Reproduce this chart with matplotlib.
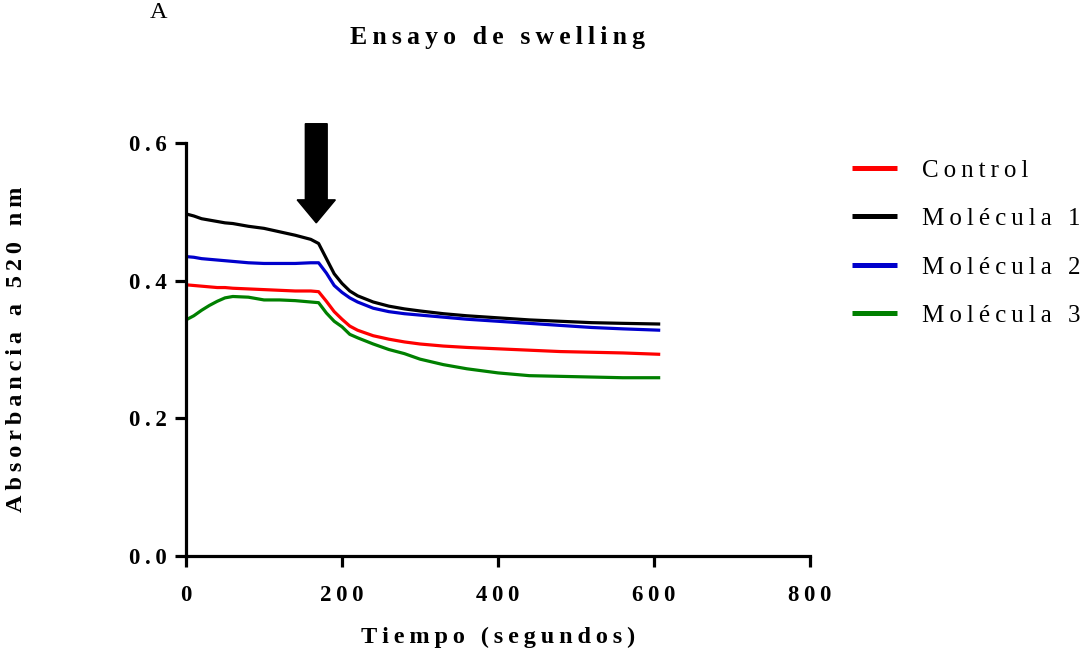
import matplotlib
matplotlib.use("Agg")
import matplotlib.pyplot as plt

# ---------------- data ----------------
time_s = [0, 10, 20, 30, 40, 50, 60, 80, 100, 120, 140, 160, 170, 180, 190, 200,
          210, 220, 240, 260, 280, 300, 330, 360, 400, 440, 480, 520, 560, 608]

control = [0.394, 0.393, 0.392, 0.391, 0.390, 0.390, 0.389, 0.388, 0.387, 0.386,
           0.385, 0.385, 0.384, 0.370, 0.355, 0.344, 0.334, 0.328, 0.320, 0.315,
           0.311, 0.308, 0.305, 0.303, 0.301, 0.299, 0.297, 0.296, 0.295, 0.293]

molecula_1 = [0.497, 0.494, 0.490, 0.488, 0.486, 0.484, 0.483, 0.479, 0.476, 0.471,
              0.466, 0.460, 0.454, 0.432, 0.410, 0.396, 0.385, 0.378, 0.369, 0.363,
              0.359, 0.356, 0.352, 0.349, 0.346, 0.343, 0.341, 0.339, 0.338, 0.337]

molecula_2 = [0.435, 0.434, 0.432, 0.431, 0.430, 0.429, 0.428, 0.426, 0.425, 0.425,
              0.425, 0.426, 0.426, 0.411, 0.393, 0.383, 0.375, 0.369, 0.360, 0.355,
              0.352, 0.350, 0.347, 0.344, 0.341, 0.338, 0.335, 0.332, 0.330, 0.328]

molecula_3 = [0.343, 0.349, 0.357, 0.364, 0.370, 0.375, 0.377, 0.376, 0.372, 0.372,
              0.371, 0.369, 0.368, 0.353, 0.341, 0.333, 0.322, 0.317, 0.308, 0.300,
              0.294, 0.286, 0.278, 0.272, 0.266, 0.262, 0.261, 0.260, 0.259, 0.259]

series_names = ["Control", "Molécula 1", "Molécula 2", "Molécula 3"]
series_colors = ["#ff0000", "#000000", "#0000cc", "#008000"]

x_ticks = [0, 200, 400, 600, 800]
y_ticks = [0.0, 0.2, 0.4, 0.6]

title_text = "Ensayo de swelling"
x_label_text = "Tiempo (segundos)"
y_label_text = "Absorbancia a 520 nm"
panel_letter = "A"

# ---------------- style ----------------
plt.rcParams["font.family"] = ["Liberation Serif", "DejaVu Serif"]

THIN = "\u2009"


def spaced(s, gap=THIN, word_gap=THIN + " " + THIN):
    """Letter-spaced rendering of a string (as in the reference)."""
    return word_gap.join(gap.join(w) for w in s.split(" "))


W, H = 1081, 656
fig = plt.figure(figsize=(W / 100, H / 100), dpi=100)
ax = fig.add_axes([186 / W, 100 / H, 624 / W, 413 / H])

for name, vals, col in zip(series_names,
                           [control, molecula_1, molecula_2, molecula_3],
                           series_colors):
    ax.plot(time_s, vals, color=col, lw=2.3, label=spaced(name),
            solid_joinstyle="round", solid_capstyle="butt")

ax.set_xlim(0, 800)
ax.set_ylim(0, 0.6)

for side in ("top", "right"):
    ax.spines[side].set_visible(False)
for side in ("left", "bottom"):
    ax.spines[side].set_linewidth(2.3)

ax.set_xticks(x_ticks, labels=[spaced(str(v)) for v in x_ticks],
              fontweight="bold", fontsize=16.5)
ax.set_yticks(y_ticks, labels=[spaced(f"{v:.1f}") for v in y_ticks],
              fontweight="bold", fontsize=16.5)
ax.tick_params(axis="both", direction="out", length=8, width=2.3)
ax.tick_params(axis="x", pad=13)
ax.tick_params(axis="y", pad=6)

ax.set_xlabel(spaced(x_label_text), fontsize=17.5, fontweight="bold")
ax.xaxis.label.set_va("center")
ax.xaxis.set_label_coords(0.5, (556 - 637) / 413)

ax.set_ylabel(spaced(y_label_text), fontsize=17.5, fontweight="bold")
ax.yaxis.label.set_va("center")
ax.yaxis.set_label_coords((17 - 186) / 624, 0.5)

fig.text(498 / W, (H - 44) / H, spaced(title_text, word_gap=THIN + " " + THIN),
         fontsize=18.5, fontweight="bold", ha="center", va="baseline")
fig.text(150 / W, (H - 18) / H, panel_letter, fontsize=17.5, va="baseline")

# arrow marking the addition time
ax.arrow(167, 0.628, 0, -0.144, width=28, head_width=49, head_length=0.0334,
         length_includes_head=True, fc="black", ec="black", clip_on=False)

leg = ax.legend(loc="upper left", bbox_to_anchor=(852 / W, (H - 159) / H),
                bbox_transform=fig.transFigure, frameon=False, fontsize=18,
                handlelength=1.8, handletextpad=1.0, labelspacing=1.04,
                borderpad=0, borderaxespad=0)
for line in leg.get_lines():
    line.set_linewidth(3.6)

fig.savefig("out.png", dpi=100)
